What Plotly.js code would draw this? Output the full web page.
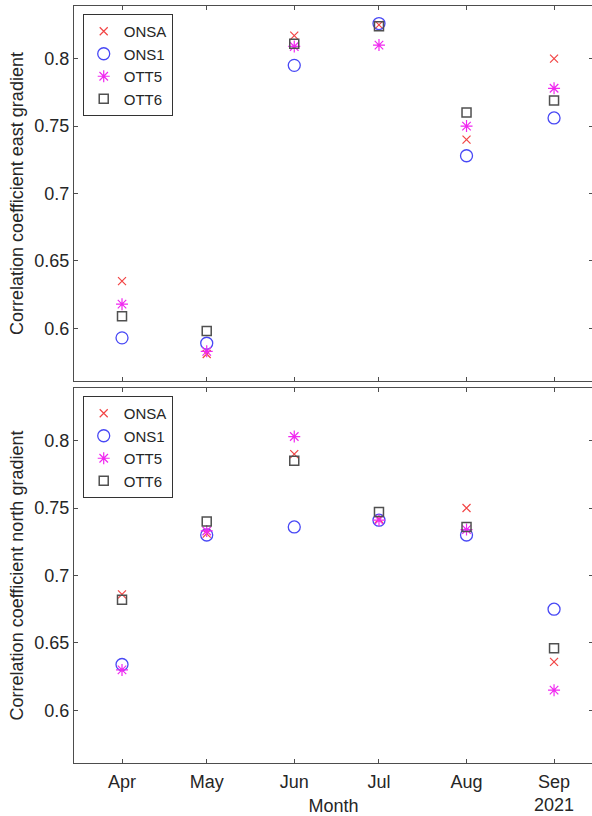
<!DOCTYPE html>
<html>
<head>
<meta charset="utf-8">
<script src="https://cdn.plot.ly/plotly-3.0.1.min.js"></script>
<style>
html, body { margin: 0; padding: 0; overflow: hidden; background: #fff; }
#chart { width: 596px; height: 816px; }
</style>
</head>
<body>
<div id="chart"></div>
<script>
// Data
const months = ['2021-04-01', '2021-05-01', '2021-06-01', '2021-07-01', '2021-08-01', '2021-09-01'];
const monthLabels = ['Apr', 'May', 'Jun', 'Jul', 'Aug', 'Sep<br>2021'];
const seriesNames = ['ONSA', 'ONS1', 'OTT5', 'OTT6'];

const eastONSA = [0.635, 0.581, 0.817, 0.825, 0.740, 0.800];
const eastONS1 = [0.593, 0.589, 0.795, 0.826, 0.728, 0.756];
const eastOTT5 = [0.618, 0.583, 0.809, 0.810, 0.750, 0.778];
const eastOTT6 = [0.609, 0.598, 0.811, 0.824, 0.760, 0.769];

const northONSA = [0.686, 0.731, 0.790, 0.742, 0.750, 0.636];
const northONS1 = [0.634, 0.730, 0.736, 0.741, 0.730, 0.675];
const northOTT5 = [0.630, 0.733, 0.803, 0.741, 0.734, 0.615];
const northOTT6 = [0.682, 0.740, 0.785, 0.747, 0.736, 0.646];

const yTickVals = [0.6, 0.65, 0.7, 0.75, 0.8];
const yTickText = ['0.6', '0.65', '0.7', '0.75', '0.8'];

// Styles
const FONT = 'Liberation Sans, Arial, Helvetica, sans-serif';
const TXT = '#262626';
const AX = '#4d4d4d';
const markerStyles = [
  {symbol: 'x-thin-open', size: 8, color: '#f24444', line: {width: 1.2, color: '#f24444'}},
  {symbol: 'circle-open', size: 12, color: '#4848f5', line: {width: 1.3}},
  {symbol: 'asterisk-open', size: 10, color: '#f028f0', line: {width: 1.2, color: '#f028f0'}},
  {symbol: 'square-open', size: 9, color: '#505050', line: {width: 1.5}}
];

const eastSeries = [eastONSA, eastONS1, eastOTT5, eastOTT6];
const northSeries = [northONSA, northONS1, northOTT5, northOTT6];

const traces = [];
eastSeries.forEach((vals, i) => {
  traces.push({
    type: 'scatter', mode: 'markers', x: months, y: vals,
    name: seriesNames[i], marker: markerStyles[i],
    xaxis: 'x', yaxis: 'y', legend: 'legend', cliponaxis: false
  });
});
northSeries.forEach((vals, i) => {
  traces.push({
    type: 'scatter', mode: 'markers', x: months, y: vals,
    name: seriesNames[i], marker: markerStyles[i],
    xaxis: 'x2', yaxis: 'y2', legend: 'legend2', cliponaxis: false
  });
});

const xRange = ['2021-03-15', '2021-09-14 19:00'];
const yRange = [0.561, 0.839];

const xCommon = {
  type: 'date', range: xRange, tickvals: months, ticktext: monthLabels,
  ticks: 'inside', ticklen: 4, tickwidth: 1, tickcolor: AX,
  showline: true, linecolor: AX, linewidth: 1, mirror: 'ticks',
  showgrid: false, zeroline: false, fixedrange: true,
  tickfont: {family: FONT, size: 18, color: TXT}
};
const yCommon = {
  range: yRange, tickvals: yTickVals, ticktext: yTickText,
  ticks: 'inside', ticklen: 4, tickwidth: 1, tickcolor: AX,
  showline: true, linecolor: AX, linewidth: 1, mirror: 'ticks',
  showgrid: false, zeroline: false, fixedrange: true,
  tickfont: {family: FONT, size: 18, color: TXT}
};
const legendCommon = {
  xref: 'paper', yref: 'paper', xanchor: 'left', yanchor: 'top',
  bgcolor: '#ffffff', bordercolor: '#333333', borderwidth: 1,
  font: {family: FONT, size: 15, color: TXT},
  tracegroupgap: 0, itemwidth: 30
};

const layout = {
  width: 596, height: 816,
  margin: {l: 74, r: 3, t: 6, b: 53},
  paper_bgcolor: '#ffffff', plot_bgcolor: '#ffffff',
  font: {family: FONT, color: TXT},
  showlegend: true,
  xaxis: Object.assign({}, xCommon, {anchor: 'y', showticklabels: false}),
  xaxis2: Object.assign({}, xCommon, {anchor: 'y2', ticklabelstandoff: 2,
    title: {text: 'Month', font: {family: FONT, size: 18, color: TXT}, standoff: 2}}),
  yaxis: Object.assign({}, yCommon, {domain: [0.5046, 1], anchor: 'x',
    title: {text: 'Correlation coefficient east gradient', font: {family: FONT, size: 18, color: TXT}, standoff: 6}}),
  yaxis2: Object.assign({}, yCommon, {domain: [0, 0.4954], anchor: 'x2',
    title: {text: 'Correlation coefficient north gradient', font: {family: FONT, size: 18, color: TXT}, standoff: 6}}),
  legend: Object.assign({}, legendCommon, {x: 0.0168, y: 0.9894}),
  legend2: Object.assign({}, legendCommon, {x: 0.0168, y: 0.4848})
};

Plotly.newPlot('chart', traces, layout, {staticPlot: true, displayModeBar: false});
</script>
</body>
</html>
